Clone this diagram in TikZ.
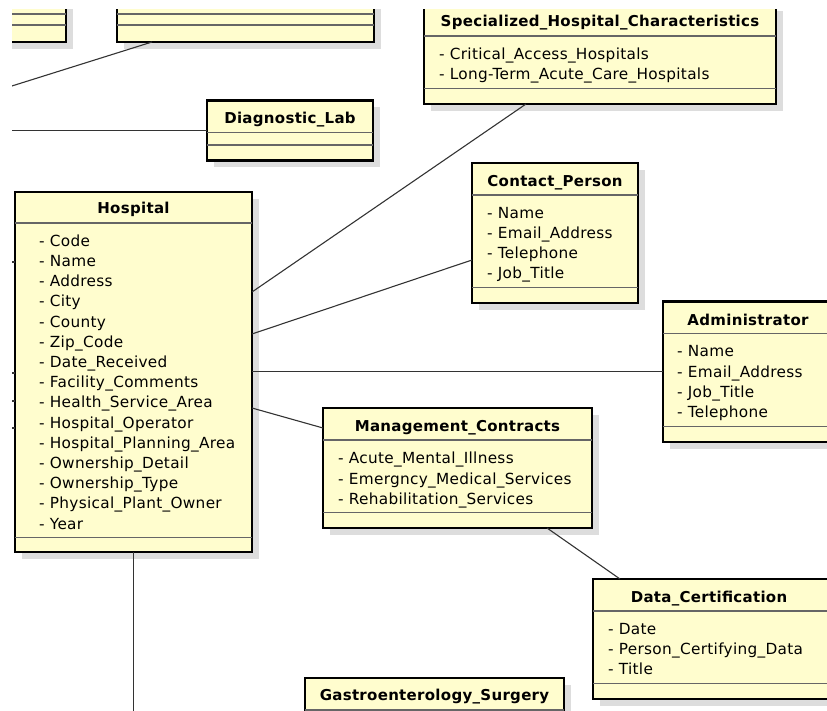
\documentclass[tikz,border=0pt]{standalone}
\usepackage{fontspec}
\setmainfont[LetterSpace=2]{DejaVu Sans}
\usepackage{tikz}
\usetikzlibrary{positioning,shadows}

\definecolor{classfill}{RGB}{255,253,206}
\definecolor{classshade}{RGB}{221,221,221}

\tikzset{
  classbox/.style={draw=black,line width=2.2pt,fill=classfill,anchor=north west,inner sep=0pt,outer sep=0pt,
    drop shadow={shadow xshift=7pt,shadow yshift=-7pt,fill=classshade,opacity=1}},
  classname/.style={anchor=base,inner sep=0pt,font=\bfseries\fontsize{15}{20.2}\selectfont},
  attrlist/.style={anchor=north west,inner sep=0pt,align=left,font=\fontsize{15.3}{20.2}\selectfont,
    execute at begin node=\strut},
  compart/.style={line width=1.2pt,draw=black!60},
  assoc/.style={line width=1.1pt,draw=black!80}
}

\begin{document}
\begin{tikzpicture}[x=1pt,y=-1pt]
  \useasboundingbox (0,0) rectangle (827,711);
  \clip (12,10) rectangle (827,711);

  % classes cut by the top edge
  \node[classbox,minimum width=126pt,minimum height=62pt] at(-60,-20)(upperA){};
  \node[classbox,minimum width=257pt,minimum height=62pt] at(117,-20)(upperB){};
  \draw[compart] ([yshift=28pt]upperA.south west) -- ([yshift=28pt]upperA.south east);
  \draw[compart] ([yshift=17pt]upperA.south west) -- ([yshift=17pt]upperA.south east);
  \draw[compart] ([yshift=28pt]upperB.south west) -- ([yshift=28pt]upperB.south east);
  \draw[compart] ([yshift=17pt]upperB.south west) -- ([yshift=17pt]upperB.south east);

  % class boxes
  \node[classbox,minimum width=166pt,minimum height=60pt] at(207,100.5)(diag){};
  \node[classbox,minimum width=352pt,minimum height=100pt] at(424,4)(spec){};
  \node[classbox,minimum width=237pt,minimum height=360pt] at(15,192)(hosp){};
  \node[classbox,minimum width=166pt,minimum height=140pt] at(472,163)(contact){};
  \node[classbox,minimum width=170pt,minimum height=140.5pt] at(663,301.5)(admin){};
  \node[classbox,minimum width=269pt,minimum height=120pt] at(323,408)(mgmt){};
  \node[classbox,minimum width=240pt,minimum height=120pt] at(593,579)(datacert){};
  \node[classbox,minimum width=259pt,minimum height=80pt] at(305,678)(gastro){};

  % compartments
  \draw[compart] ([yshift=-32pt]diag.north west) -- ([yshift=-32pt]diag.north east);
  \draw[compart] ([yshift=15.5pt]diag.south west) -- ([yshift=15.5pt]diag.south east);
  \draw[compart] ([yshift=-32pt]spec.north west) -- ([yshift=-32pt]spec.north east);
  \draw[compart] ([yshift=15.5pt]spec.south west) -- ([yshift=15.5pt]spec.south east);
  \draw[compart] ([yshift=-31pt]hosp.north west) -- ([yshift=-31pt]hosp.north east);
  \draw[compart] ([yshift=14.5pt]hosp.south west) -- ([yshift=14.5pt]hosp.south east);
  \draw[compart] ([yshift=-32pt]contact.north west) -- ([yshift=-32pt]contact.north east);
  \draw[compart] ([yshift=15.5pt]contact.south west) -- ([yshift=15.5pt]contact.south east);
  \draw[compart] ([yshift=-32pt]admin.north west) -- ([yshift=-32pt]admin.north east);
  \draw[compart] ([yshift=15.5pt]admin.south west) -- ([yshift=15.5pt]admin.south east);
  \draw[compart] ([yshift=-32pt]mgmt.north west) -- ([yshift=-32pt]mgmt.north east);
  \draw[compart] ([yshift=15.5pt]mgmt.south west) -- ([yshift=15.5pt]mgmt.south east);
  \draw[compart] ([yshift=-32pt]datacert.north west) -- ([yshift=-32pt]datacert.north east);
  \draw[compart] ([yshift=15.5pt]datacert.south west) -- ([yshift=15.5pt]datacert.south east);
  \draw[compart] ([yshift=-32pt]gastro.north west) -- ([yshift=-32pt]gastro.north east);

  % class names
  \node[classname] at([yshift=-23pt]diag.north)(diagname){Diagnostic\_Lab};
  \node[classname] at([yshift=-23pt]spec.north)(specname){Specialized\_Hospital\_Characteristics};
  \node[classname] at([yshift=-22pt]hosp.north)(hospname){Hospital};
  \node[classname] at([yshift=-23.5pt]contact.north)(contactname){Contact\_Person};
  \node[classname] at([yshift=-23.5pt]admin.north)(adminname){Administrator};
  \node[classname] at([yshift=-23pt]mgmt.north)(mgmtname){Management\_Contracts};
  \node[classname] at([xshift=116pt,yshift=-23pt]datacert.north west)(datacertname){Data\_Certification};
  \node[classname] at([yshift=-22pt]gastro.north)(gastroname){Gastroenterology\_Surgery};

  % attributes
  \node[attrlist] at([xshift=24pt,yshift=-42.5pt]hosp.north west)(hospattr){- Code\\- Name\\- Address\\- City\\- County\\- Zip\_Code\\- Date\_Received\\- Facility\_Comments\\- Health\_Service\_Area\\- Hospital\_Operator\\- Hospital\_Planning\_Area\\- Ownership\_Detail\\- Ownership\_Type\\- Physical\_Plant\_Owner\\- Year};
  \node[attrlist] at([xshift=15pt,yshift=-43.5pt]spec.north west)(specattr){- Critical\_Access\_Hospitals\\- Long-Term\_Acute\_Care\_Hospitals};
  \node[attrlist] at([xshift=15pt,yshift=-44pt]contact.north west)(contactattr){- Name\\- Email\_Address\\- Telephone\\- Job\_Title};
  \node[attrlist] at([xshift=14pt,yshift=-44pt]admin.north west)(adminattr){- Name\\- Email\_Address\\- Job\_Title\\- Telephone};
  \node[attrlist] at([xshift=15pt,yshift=-44pt]mgmt.north west)(mgmtattr){- Acute\_Mental\_Illness\\- Emergncy\_Medical\_Services\\- Rehabilitation\_Services};
  \node[attrlist] at([xshift=15pt,yshift=-44pt]datacert.north west)(datacertattr){- Date\\- Person\_Certifying\_Data\\- Title};

  % associations
  \coordinate (leftA) at (-20,96);
  \coordinate (leftB) at (-20,130.5);
  \coordinate (belowhosp) at (133.5,740);
  \coordinate (leftmarkA) at (-20,262);
  \coordinate (leftmarkB) at (-20,373);
  \coordinate (leftmarkC) at (-20,401);
  \coordinate (leftmarkD) at (-20,428);

  \draw[assoc] ([xshift=35pt]upperB.south west) -- (leftA);
  \draw[assoc] (leftB) -- (diag.west);
  \draw[assoc] ([xshift=102pt]spec.south west) -- ([yshift=-100pt]hosp.north east);
  \draw[assoc] ([yshift=-97pt]contact.north west) -- ([yshift=-142pt]hosp.north east);
  \draw[assoc] (hosp.east |- admin.west) -- (admin.west);
  \draw[assoc] ([yshift=-216pt]hosp.north east) -- ([yshift=-20pt]mgmt.north west);
  \draw[assoc] ([xshift=224pt]mgmt.south west) -- ([xshift=27pt]datacert.north west);
  \draw[assoc] (hosp.south) -- (belowhosp);
  \draw[assoc] (leftmarkA) -- (hosp.west |- leftmarkA);
  \draw[assoc] (leftmarkB) -- (hosp.west |- leftmarkB);
  \draw[assoc] (leftmarkC) -- (hosp.west |- leftmarkC);
  \draw[assoc] (leftmarkD) -- (hosp.west |- leftmarkD);
\end{tikzpicture}
\end{document}
